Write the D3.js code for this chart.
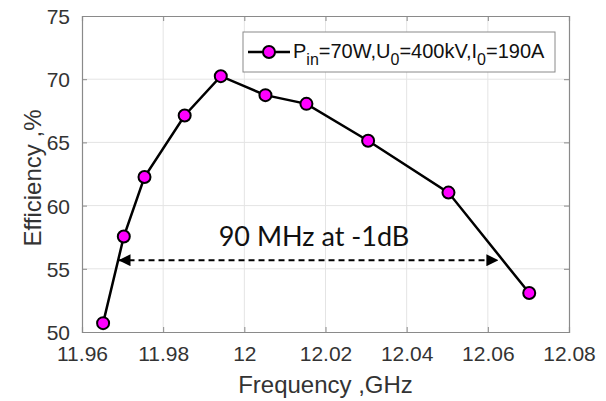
<!DOCTYPE html>
<html><head><meta charset="utf-8">
<script src="https://cdn.jsdelivr.net/npm/d3@7"></script>
<style>body{margin:0;background:#fff}</style>
</head><body>
<svg id="chart" width="606" height="401"></svg>
<script>
const freqGHz = [11.9652, 11.9703, 11.9754, 11.9853, 11.9942, 12.0052, 12.0153, 12.0305, 12.0503, 12.0702];
const efficiency = [50.7, 57.55, 62.26, 67.13, 70.24, 68.74, 68.05, 65.13, 61.03, 53.08];
const xTicks = [11.96, 11.98, 12.00, 12.02, 12.04, 12.06, 12.08];
const xTickLabels = ["11.96", "11.98", "12", "12.02", "12.04", "12.06", "12.08"];
const yTicks = [50, 55, 60, 65, 70, 75];
const arrowSpan = [11.969, 12.0626];
const arrowLevel = 55.68;
const annotation = "90 MHz at -1dB";

const svg = d3.select("#chart");
const L = 82, R = 569, T = 16, B = 332;
const x = d3.scaleLinear().domain([11.96, 12.08]).range([L, R]);
const y = d3.scaleLinear().domain([50, 75]).range([B, T]);
const font = "'Liberation Sans', Arial, sans-serif";
const axisCol = "#8a8a8a";

// grid
svg.append("g").selectAll("line").data(xTicks.slice(1, -1)).join("line")
  .attr("x1", d => x(d)).attr("x2", d => x(d)).attr("y1", T).attr("y2", B)
  .attr("stroke", "#e4e4e4").attr("stroke-width", 1);
svg.append("g").selectAll("line").data(yTicks.slice(1, -1)).join("line")
  .attr("y1", d => y(d)).attr("y2", d => y(d)).attr("x1", L).attr("x2", R)
  .attr("stroke", "#e4e4e4").attr("stroke-width", 1);

// axes
const fmtX = d => xTickLabels[xTicks.indexOf(d)];
const gx = svg.append("g").attr("transform", `translate(0,${B})`)
  .call(d3.axisBottom(x).tickValues(xTicks).tickFormat(fmtX).tickSize(-5).tickPadding(14));
const gxt = svg.append("g").attr("transform", `translate(0,${T})`)
  .call(d3.axisTop(x).tickValues(xTicks).tickFormat("").tickSize(-5));
const gy = svg.append("g").attr("transform", `translate(${L},0)`)
  .call(d3.axisLeft(y).tickValues(yTicks).tickSize(-5).tickPadding(12));
const gyr = svg.append("g").attr("transform", `translate(${R},0)`)
  .call(d3.axisRight(y).tickValues(yTicks).tickFormat("").tickSize(-5));
[gx, gxt, gy, gyr].forEach(g => {
  g.select(".domain").attr("stroke", axisCol).attr("stroke-width", 1.2);
  g.selectAll(".tick line").attr("stroke", axisCol);
  g.selectAll("text").attr("fill", "#333").style("font-family", font).style("font-size", "21px");
});
gx.selectAll("text").attr("dy", "0.71em");
gy.selectAll("text").attr("dy", "0.36em");

// axis labels
svg.append("text").attr("x", (L + R) / 2).attr("y", 393).attr("text-anchor", "middle")
  .style("font-family", font).style("font-size", "24px").attr("fill", "#333").text("Frequency ,GHz");
svg.append("text").attr("transform", `translate(41,${(T + B) / 2 + 4}) rotate(-90)`).attr("text-anchor", "middle")
  .style("font-family", font).style("font-size", "24px").attr("fill", "#333").text("Efficiency ,%");

// data line
const pts = freqGHz.map((f, i) => [f, efficiency[i]]);
svg.append("path").datum(pts)
  .attr("d", d3.line().x(d => x(d[0])).y(d => y(d[1])))
  .attr("fill", "none").attr("stroke", "#000").attr("stroke-width", 2.5);
svg.append("g").selectAll("circle").data(pts).join("circle")
  .attr("cx", d => x(d[0])).attr("cy", d => y(d[1])).attr("r", 6)
  .attr("fill", "#ff00ff").attr("stroke", "#000").attr("stroke-width", 2);

// arrow annotation
const defs = svg.append("defs");
["s", "e"].forEach(k => {
  defs.append("marker").attr("id", "arr" + k).attr("viewBox", "0 0 10 10")
    .attr("refX", 10).attr("refY", 5).attr("markerWidth", 12).attr("markerHeight", 12)
    .attr("markerUnits", "userSpaceOnUse").attr("orient", k === "s" ? "auto-start-reverse" : "auto")
    .append("path").attr("d", "M0,0 L10,5 L0,10 Z").attr("fill", "#000");
});
svg.append("line")
  .attr("x1", x(arrowSpan[0])).attr("x2", x(arrowSpan[1]))
  .attr("y1", y(arrowLevel)).attr("y2", y(arrowLevel))
  .attr("stroke", "#000").attr("stroke-width", 2).attr("stroke-dasharray", "6,4")
  .attr("marker-start", "url(#arrs)").attr("marker-end", "url(#arre)");
svg.append("text").attr("x", 314).attr("y", 246).attr("text-anchor", "middle")
  .style("font-family", "Lato, 'Open Sans', sans-serif").style("font-size", "27px").attr("fill", "#111")
  .text(annotation);

// legend
const lg = svg.append("g");
lg.append("rect").attr("x", 243).attr("y", 32).attr("width", 312).attr("height", 40)
  .attr("fill", "#fff").attr("stroke", "#8a8a8a").attr("stroke-width", 1);
lg.append("line").attr("x1", 248).attr("x2", 290).attr("y1", 52).attr("y2", 52)
  .attr("stroke", "#000").attr("stroke-width", 2.5);
lg.append("circle").attr("cx", 269).attr("cy", 52).attr("r", 6)
  .attr("fill", "#ff00ff").attr("stroke", "#000").attr("stroke-width", 2);
const lt = lg.append("text").attr("x", 293).attr("y", 58)
  .style("font-family", font).style("font-size", "20px").attr("fill", "#111");
lt.append("tspan").text("P");
lt.append("tspan").attr("dy", 7).style("font-size", "16px").text("in");
lt.append("tspan").attr("dy", -7).text("=70W,U");
lt.append("tspan").attr("dy", 7).style("font-size", "16px").text("0");
lt.append("tspan").attr("dy", -7).text("=400kV,I");
lt.append("tspan").attr("dy", 7).style("font-size", "16px").text("0");
lt.append("tspan").attr("dy", -7).text("=190A");
</script>
</body></html>
